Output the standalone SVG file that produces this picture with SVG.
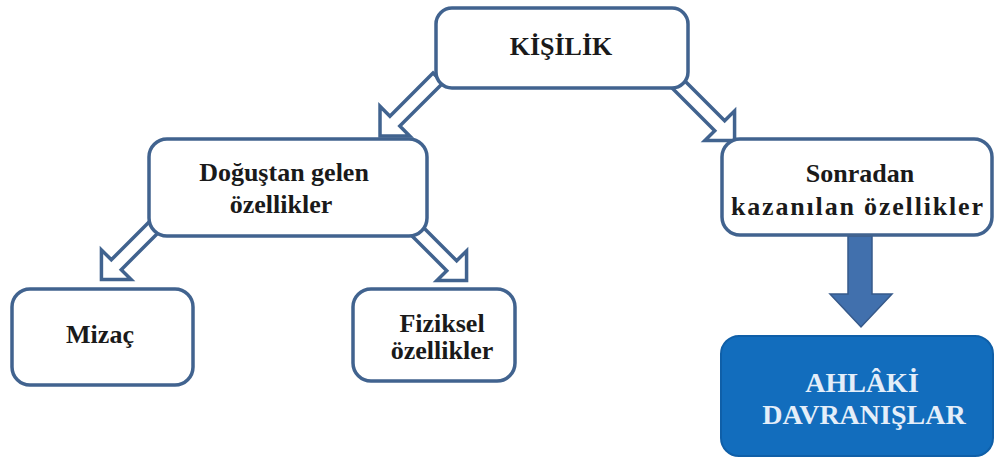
<svg xmlns="http://www.w3.org/2000/svg" width="995" height="461" viewBox="0 0 995 461">
<defs>
<style>
.box{fill:#ffffff;stroke:#41638f;stroke-width:3.5}
.hollow{fill:#ffffff;stroke:#41638f;stroke-width:3.5;stroke-linejoin:miter}
.t{font-family:"Liberation Serif","Times New Roman",serif;font-weight:bold;font-size:26px;fill:#1a1a1a;text-anchor:middle}
.tw{font-family:"Liberation Serif","Times New Roman",serif;font-weight:bold;font-size:28px;fill:#e4eef9;text-anchor:middle}
</style>
</defs>
<rect width="995" height="461" fill="#ffffff"/>
<g id="connectors">
<polygon class="hollow" transform="translate(438,78) rotate(135)" points="0,-7 61,-7 61,-21 82,0 61,21 61,7 0,7"/>
<polygon class="hollow" transform="translate(678,84) rotate(45)" points="0,-7 59,-7 59,-21 80,0 59,21 59,7 0,7"/>
<polygon class="hollow" transform="translate(158,223) rotate(135)" points="0,-7 59,-7 59,-21 80,0 59,21 59,7 0,7"/>
<polygon class="hollow" transform="translate(410,224) rotate(45)" points="0,-7 59,-7 59,-21 80,0 59,21 59,7 0,7"/>
<polygon fill="#4170ad" stroke="#36598a" stroke-width="1.5" points="848,236 872,236 872,294 892,294 861,327 830,294 848,294"/>
</g>
<g id="kisilik">
<rect class="box" x="436" y="8" width="252" height="80" rx="16"/>
<text class="t" x="561" y="55">KİŞİLİK</text>
</g>
<g id="dogustan">
<rect class="box" x="149" y="139" width="278" height="97" rx="18"/>
<text class="t" x="284" y="181">Doğuştan gelen</text>
<text class="t" x="281" y="213">özellikler</text>
</g>
<g id="sonradan">
<rect class="box" x="722" y="139" width="270" height="96" rx="18"/>
<text class="t" x="860" y="182">Sonradan</text>
<text class="t" x="857" y="215" textLength="252" lengthAdjust="spacing">kazanılan özellikler</text>
</g>
<g id="mizac">
<rect class="box" x="12" y="289" width="181" height="96" rx="18"/>
<text class="t" x="100" y="343">Mizaç</text>
</g>
<g id="fiziksel">
<rect class="box" x="353" y="289" width="162" height="92" rx="18"/>
<text class="t" x="442" y="332">Fiziksel</text>
<text class="t" x="442" y="359">özellikler</text>
</g>
<g id="ahlaki">
<rect x="721" y="336" width="272" height="120" rx="18" fill="#126dbd" stroke="#0f5fa8" stroke-width="2"/>
<text class="tw" x="862" y="392" font-size="29">AHLÂKİ</text>
<text class="tw" x="864" y="424">DAVRANIŞLAR</text>
</g>
</svg>
